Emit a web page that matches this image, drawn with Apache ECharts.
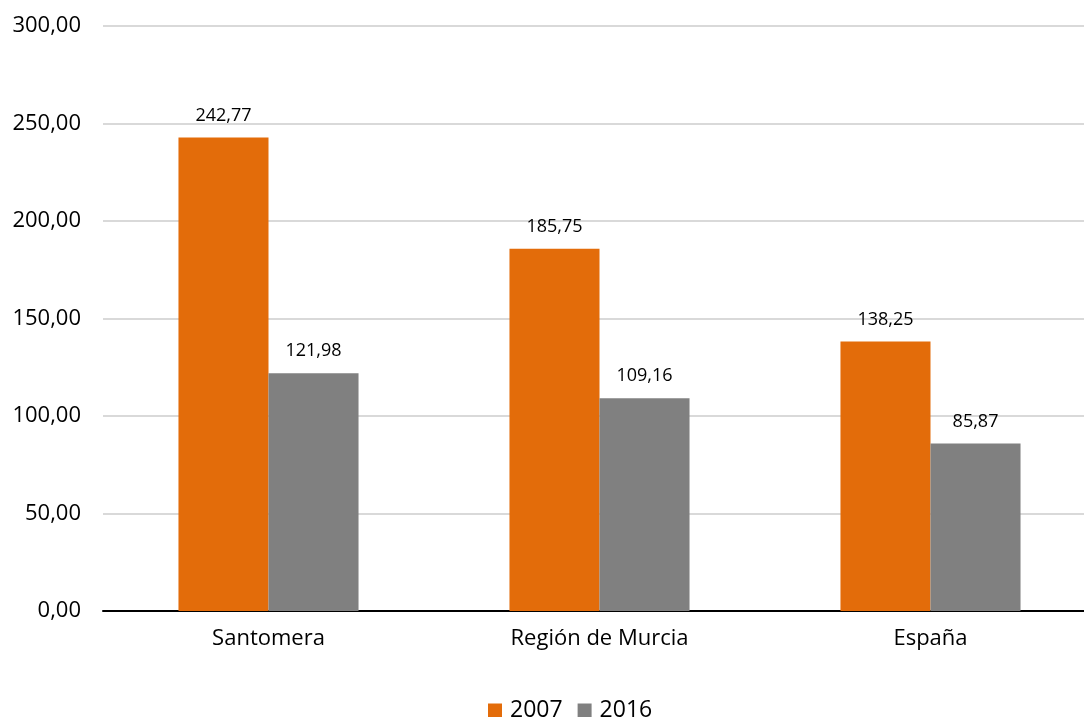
<!DOCTYPE html>
<html><head><meta charset="utf-8">
<script src="https://cdn.jsdelivr.net/npm/echarts@6/dist/echarts.min.js"></script>
<style>html,body{margin:0;padding:0;background:#fff;overflow:hidden}#c{width:1097px;height:717px}</style>
</head><body><div id="c"></div>
<script>
const categories = ["Santomera", "Región de Murcia", "España"];
const seriesNames = ["2007", "2016"];
const values2007 = [242.77, 185.75, 138.25];
const values2016 = [121.98, 109.16, 85.87];
const colors = ["#E36C0A", "#808080"];
const FONT = "Open Sans";
const fmt = v => v.toFixed(2).replace('.', ',');
const chart = echarts.init(document.getElementById('c'));
chart.setOption({
  animation: false,
  textStyle: { fontFamily: FONT },
  grid: { left: 103, right: 1, top: 26, height: 585, containLabel: false },
  legend: {
    top: 694, left: 483, itemWidth: 14, itemHeight: 14, itemGap: 15,
    icon: 'rect',
    textStyle: { fontSize: 23, color: '#000', fontFamily: FONT, padding: [0, 0, 0, 3] },
    data: seriesNames
  },
  xAxis: {
    type: 'category', data: categories,
    axisLine: { lineStyle: { color: '#000', width: 2 } },
    axisTick: { show: false },
    axisLabel: { fontSize: 22, color: '#000', margin: 17, fontFamily: FONT }
  },
  yAxis: {
    type: 'value', min: 0, max: 300, interval: 50,
    axisLine: { show: false }, axisTick: { show: false },
    splitLine: { lineStyle: { color: '#D9D9D9', width: 2 } },
    axisLabel: { fontSize: 22, color: '#000', margin: 22, formatter: fmt, fontFamily: FONT }
  },
  series: [values2007, values2016].map((d, i) => ({
    name: seriesNames[i], type: 'bar', data: d,
    itemStyle: { color: colors[i] },
    barGap: '0%', barCategoryGap: '45.6%',
    label: { show: true, position: 'top', distance: 13, fontSize: 18, color: '#000', formatter: p => fmt(p.value), fontFamily: FONT }
  }))
});
</script></body></html>
